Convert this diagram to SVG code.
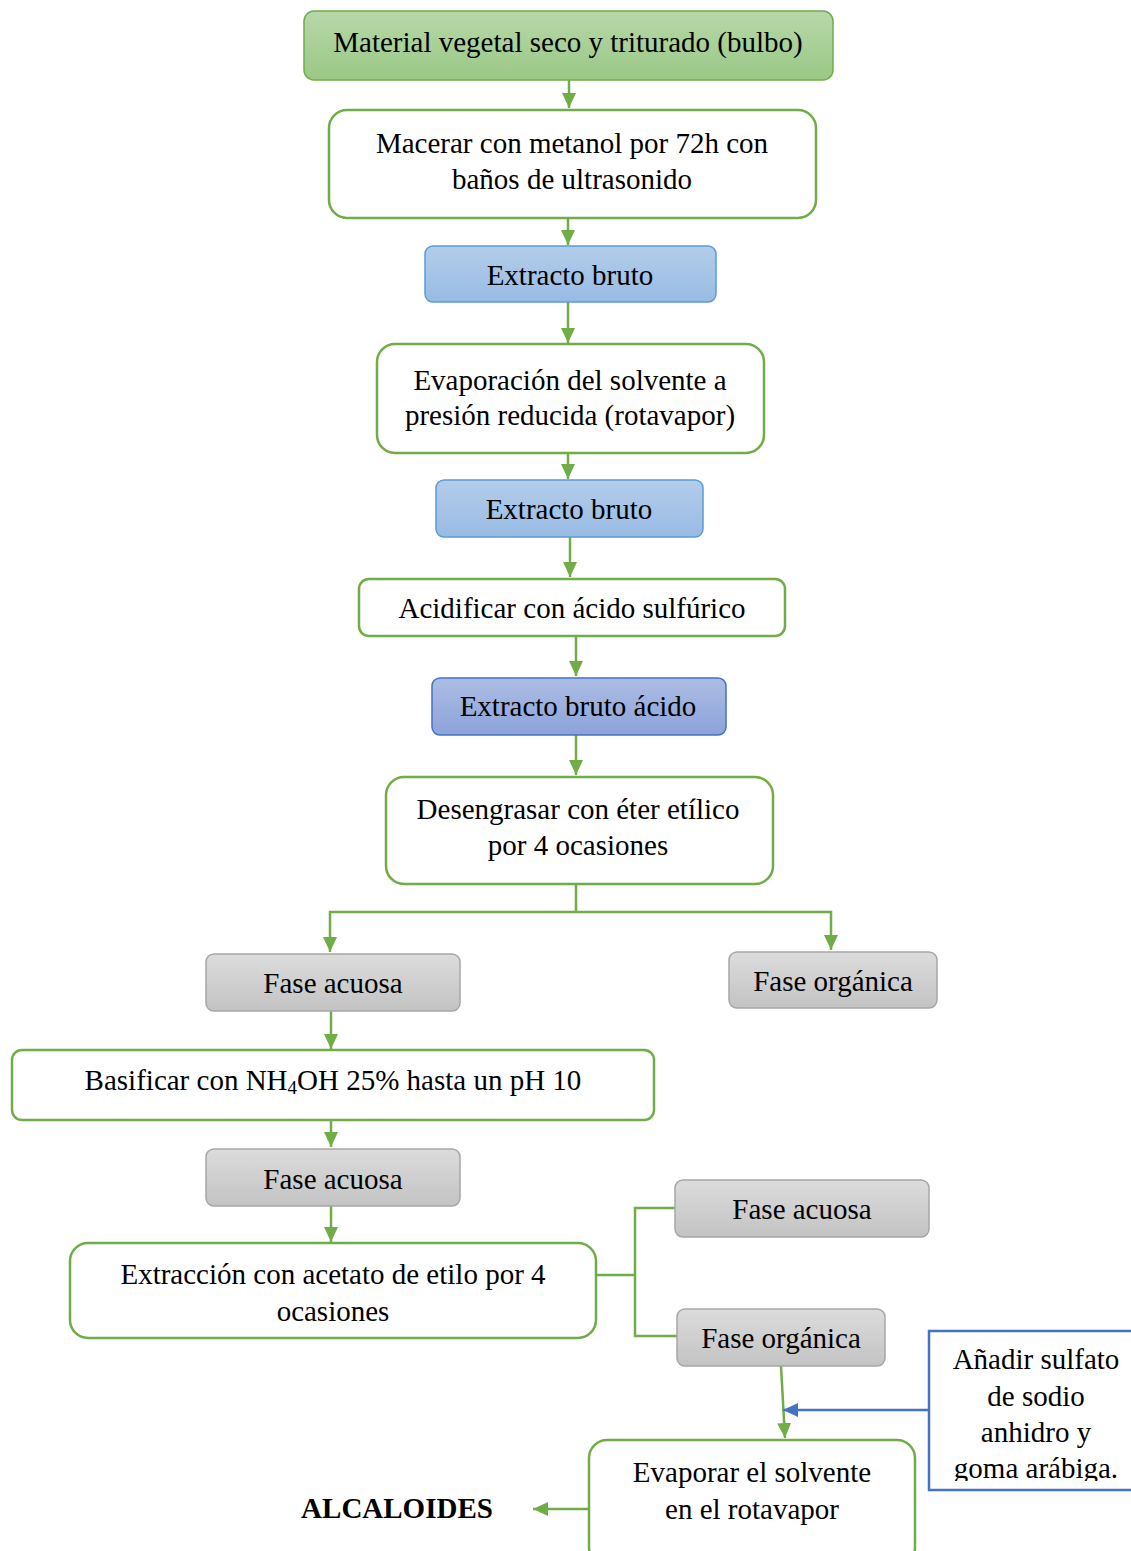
<svg xmlns="http://www.w3.org/2000/svg" width="1131" height="1551" viewBox="0 0 1131 1551">
<defs>
<linearGradient id="gGreen" x1="0" y1="0" x2="0" y2="1"><stop offset="0" stop-color="#b7d8a9"/><stop offset="1" stop-color="#9ac885"/></linearGradient>
<linearGradient id="gBlue" x1="0" y1="0" x2="0" y2="1"><stop offset="0" stop-color="#b3cdea"/><stop offset="1" stop-color="#98bbe4"/></linearGradient>
<linearGradient id="gBlue2" x1="0" y1="0" x2="0" y2="1"><stop offset="0" stop-color="#adbde4"/><stop offset="1" stop-color="#8ca3da"/></linearGradient>
<linearGradient id="gGrey" x1="0" y1="0" x2="0" y2="1"><stop offset="0" stop-color="#dcdcdc"/><stop offset="1" stop-color="#c3c3c3"/></linearGradient>
<marker id="ag" markerUnits="userSpaceOnUse" markerWidth="16" markerHeight="16" viewBox="0 0 16 16" refX="15" refY="8" orient="auto"><path d="M0,1 L15,8 L0,15 Z" fill="#70ad47"/></marker>
<marker id="ab" markerUnits="userSpaceOnUse" markerWidth="16" markerHeight="16" viewBox="0 0 16 16" refX="15" refY="8" orient="auto"><path d="M0,1 L15,8 L0,15 Z" fill="#4472c4"/></marker>
<clipPath id="clipBlue"><rect x="931" y="1333" width="200" height="148"/></clipPath>
<style>
text{font-family:"Liberation Serif","Times New Roman",serif;font-size:29px;fill:#000;text-anchor:middle}
.w{fill:#fff;stroke:#70ad47;stroke-width:2.5}
.gr{fill:url(#gGreen);stroke:#70ad47;stroke-width:1.5}
.bl{fill:url(#gBlue);stroke:#5b9bd5;stroke-width:1.5}
.bl2{fill:url(#gBlue2);stroke:#4472c4;stroke-width:1.5}
.gy{fill:url(#gGrey);stroke:#a6a6a6;stroke-width:1.5}
.c{fill:none;stroke:#70ad47;stroke-width:2.5}
.cb{fill:none;stroke:#4472c4;stroke-width:2.5}
</style>
</defs>
<g id="connectors">
<path class="c" d="M569,68 V108" marker-end="url(#ag)"/>
<path class="c" d="M568,205 V245" marker-end="url(#ag)"/>
<path class="c" d="M568,302 V343" marker-end="url(#ag)"/>
<path class="c" d="M568,437 V479" marker-end="url(#ag)"/>
<path class="c" d="M570,537 V577" marker-end="url(#ag)"/>
<path class="c" d="M576,636 V676" marker-end="url(#ag)"/>
<path class="c" d="M576,735 V775" marker-end="url(#ag)"/>
<path class="c" d="M576,872 V912"/>
<path class="c" d="M576,912 H330 V952" marker-end="url(#ag)"/>
<path class="c" d="M576,912 H831 V950" marker-end="url(#ag)"/>
<path class="c" d="M331,1011 V1049" marker-end="url(#ag)"/>
<path class="c" d="M331,1108 V1147" marker-end="url(#ag)"/>
<path class="c" d="M331,1206 V1242" marker-end="url(#ag)"/>
<path class="c" d="M596,1275 H635 M675,1208 H635 V1336 H677"/>
<path class="c" d="M781,1366 L785,1438" marker-end="url(#ag)"/>
<path class="cb" d="M929,1410 H783" marker-end="url(#ab)"/>
<path class="c" d="M589,1509 H533" marker-end="url(#ag)"/>
</g>
<g id="n1"><rect class="gr" x="304" y="11" width="529" height="69" rx="10"/><text x="568" y="52">Material vegetal seco y triturado (bulbo)</text></g>
<g id="n2"><rect class="w" x="329" y="110" width="487" height="108" rx="18"/><text x="572" y="153">Macerar con metanol por 72h con</text><text x="572" y="189">baños de ultrasonido</text></g>
<g id="n3"><rect class="bl" x="425" y="246" width="291" height="56" rx="8"/><text x="570" y="285">Extracto bruto</text></g>
<g id="n4"><rect class="w" x="377" y="344" width="387" height="109" rx="18"/><text x="570" y="390">Evaporación del solvente a</text><text x="570" y="425">presión reducida (rotavapor)</text></g>
<g id="n5"><rect class="bl" x="436" y="480" width="267" height="57" rx="8"/><text x="569" y="519">Extracto bruto</text></g>
<g id="n6"><rect class="w" x="359" y="579" width="426" height="57" rx="10"/><text x="572" y="618">Acidificar con ácido sulfúrico</text></g>
<g id="n7"><rect class="bl2" x="432" y="678" width="294" height="57" rx="8"/><text x="578" y="716">Extracto bruto ácido</text></g>
<g id="n8"><rect class="w" x="386" y="777" width="387" height="107" rx="18"/><text x="578" y="819">Desengrasar con éter etílico</text><text x="578" y="855">por 4 ocasiones</text></g>
<g id="n9"><rect class="gy" x="206" y="954" width="254" height="57" rx="8"/><text x="333" y="993">Fase acuosa</text></g>
<g id="n10"><rect class="gy" x="729" y="952" width="208" height="56" rx="8"/><text x="833" y="991">Fase orgánica</text></g>
<g id="n11"><rect class="w" x="12" y="1050" width="642" height="70" rx="10"/><text x="333" y="1090">Basificar con NH<tspan font-size="19" dy="4">4</tspan><tspan dy="-4">OH 25% hasta un pH 10</tspan></text></g>
<g id="n12"><rect class="gy" x="206" y="1149" width="254" height="57" rx="8"/><text x="333" y="1189">Fase acuosa</text></g>
<g id="n13"><rect class="w" x="70" y="1243" width="526" height="95" rx="18"/><text x="333" y="1284">Extracción con acetato de etilo por 4</text><text x="333" y="1321">ocasiones</text></g>
<g id="n14"><rect class="gy" x="675" y="1180" width="254" height="57" rx="8"/><text x="802" y="1219">Fase acuosa</text></g>
<g id="n15"><rect class="gy" x="677" y="1309" width="208" height="57" rx="8"/><text x="781" y="1348">Fase orgánica</text></g>
<g id="n16"><rect x="929" y="1331" width="210" height="159" fill="#fff" stroke="#4472c4" stroke-width="2.5"/><g clip-path="url(#clipBlue)"><text x="1036" y="1369">Añadir sulfato</text><text x="1036" y="1406">de sodio</text><text x="1036" y="1442">anhidro y</text><text x="1036" y="1478">goma arábiga.</text></g></g>
<g id="n17"><rect class="w" x="589" y="1440" width="326" height="125" rx="18"/><text x="752" y="1482">Evaporar el solvente</text><text x="752" y="1519">en el rotavapor</text></g>
<g id="n18"><text x="397" y="1518" font-weight="bold">ALCALOIDES</text></g>
</svg>
